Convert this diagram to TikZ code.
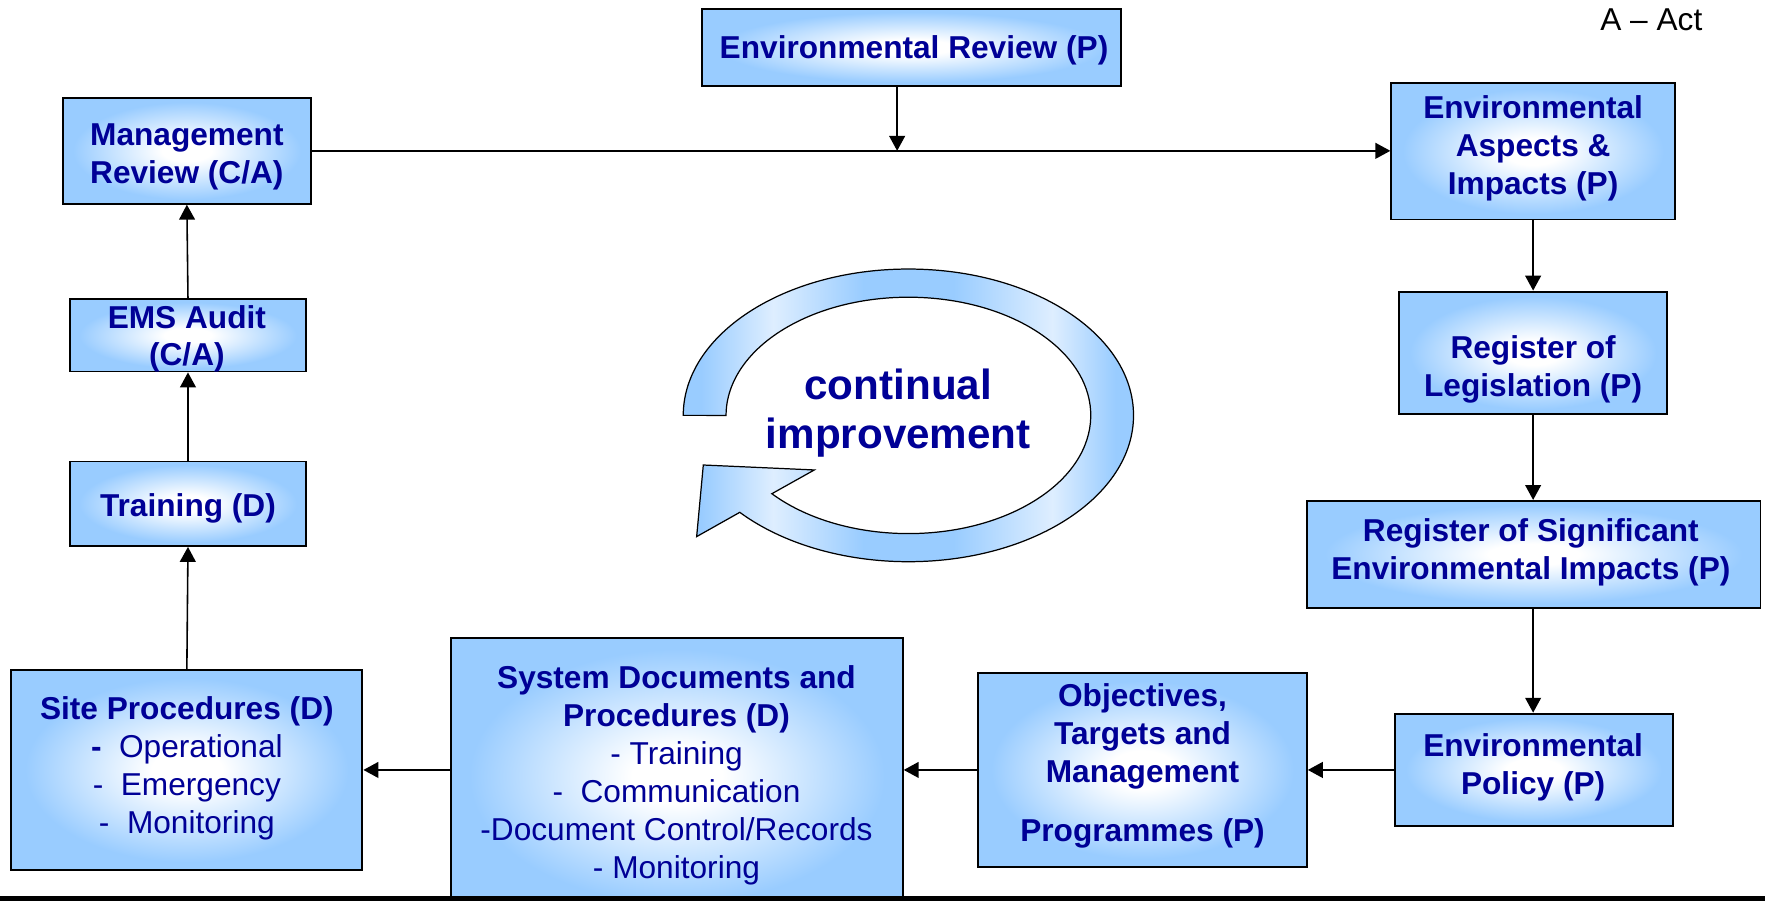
\documentclass[tikz,border=0pt]{standalone}
\usepackage{fontspec}
\setmainfont{Liberation Sans}
\usetikzlibrary{arrows.meta,fit}
\definecolor{boxblue}{RGB}{153,204,255}
\definecolor{navy}{RGB}{0,0,150}
\definecolor{ringlight}{RGB}{222,238,255}
\pgfdeclareradialshading{boxshade}{\pgfpoint{0bp}{0bp}}{color(0bp)=(white); color(5bp)=(white); color(23bp)=(boxblue); color(50bp)=(boxblue)}
\pgfdeclarehorizontalshading{ringshade}{100bp}{color(0bp)=(boxblue); color(27bp)=(boxblue); color(35bp)=(ringlight); color(45bp)=(boxblue); color(55bp)=(boxblue); color(66bp)=(ringlight); color(73bp)=(boxblue); color(100bp)=(boxblue)}
\tikzset{
  box/.style={draw=black, line width=1.1pt, shading=boxshade, inner sep=0pt},
  txt/.style={align=center, text=navy, inner sep=0pt, font=\fontsize{18}{21.6}\selectfont\bfseries},
  arr/.style={-{Triangle[length=8.5pt,width=9pt]}, line width=0.9pt},
  ring/.style={draw=black, line width=0.7pt, shading=ringshade},
}
\begin{document}
\begin{tikzpicture}[x=0.022514cm, y=-0.022514cm]
\useasboundingbox (0,0) rectangle (1568,800);

% boxes
\node[box, fit={(624,8) (996,76)}] (envrev) {};
\node[box, fit={(56,87) (276,181)}] (mgmt) {};
\node[box, fit={(1236,74) (1488,195)}] (aspects) {};
\node[box, fit={(62,266) (272,330)}] (ems) {};
\node[box, fit={(1243,259) (1481,368)}] (regleg) {};
\node[box, fit={(62,410) (272,485)}] (train) {};
\node[box, fit={(1161,445) (1564,540)}] (regsig) {};
\node[box, fit={(10,595) (322,773)}] (site) {};
\node[box, fit={(401,567) (802,812)}] (sysdoc) {};
\node[box, fit={(869,598) (1161,770)}] (obj) {};
\node[box, fit={(1239,634) (1486,734)}] (policy) {};

% texts
\node[txt] (envrevT) at (812,44.5) {Environmental Review (P)};
\node[txt] (mgmtT) at (166,139) {Management\\Review (C/A)};
\node[txt] (aspectsT) at (1362,131.5) {Environmental\\Aspects \&\\Impacts (P)};
\node[txt] (emsT) at (166,301) {EMS Audit\\(C/A)};
\node[txt] (reglegT) at (1362,328) {Register of\\Legislation (P)};
\node[txt] (trainT) at (167,451.5) {Training (D)};
\node[txt] (regsigT) at (1360,491) {Register of Significant\\Environmental Impacts (P)};
\node[txt] (siteT) at (166,682.5) {Site Procedures (D)\\-\ \ {\mdseries Operational}\\{\mdseries -\ \ Emergency}\\{\mdseries -\ \ Monitoring}};
\node[txt] (sysT) at (601,688.5) {System Documents and\\Procedures (D)\\{\mdseries - Training}\\{\mdseries -\ \ Communication}\\{\mdseries -Document Control/Records}\\{\mdseries - Monitoring}};
\node[txt] (objT) at (1015,680.5) {Objectives,\\Targets and\\Management\\[12pt]Programmes (P)};
\node[txt] (policyT) at (1362,682) {Environmental\\Policy (P)};

\node[inner sep=0pt, font=\fontsize{18}{21}\selectfont] (act) at (1467,18) {A -- Act};

% connectors
\coordinate (jn) at (797,134);
\draw[arr] (mgmt.east) -- (mgmt.east -| aspects.west);
\draw[arr] (envrev.south -| jn) -- (jn);
\draw[arr] (aspects.south) -- (regleg.north);
\draw[arr] (regleg.south) -- (regleg.south |- regsig.north);
\draw[arr] (regsig.south -| regleg.south) -- (regleg.south |- policy.north);
\draw[arr] (policy.west) -- (policy.west -| obj.east);
\draw[arr] (obj.west) -- (obj.west -| sysdoc.east);
\draw[arr] (obj.west -| sysdoc.west) -- (obj.west -| site.east);
\draw[arr] (site.north) -- (train.south);
\draw[arr] (train.north) -- (ems.south);
\draw[arr] (ems.north) -- (mgmt.south);

% continual improvement ring
\draw[ring] (607,369) arc[start angle=180, end angle=498.5, x radius=200, y radius=130]
  -- (618.9,476.7) -- (624.8,413.1) -- (723.4,417.5) -- (685.7,438.6)
  arc[start angle=498.5, end angle=180, x radius=162, y radius=105] -- cycle;
\node[align=center, text=navy, inner sep=0pt, font=\fontsize{24}{28.2}\selectfont\bfseries] (ci) at (798,367) {continual\\improvement};

% bottom bar
\fill[black] (0,796) rectangle (1568,801);
\end{tikzpicture}
\end{document}
